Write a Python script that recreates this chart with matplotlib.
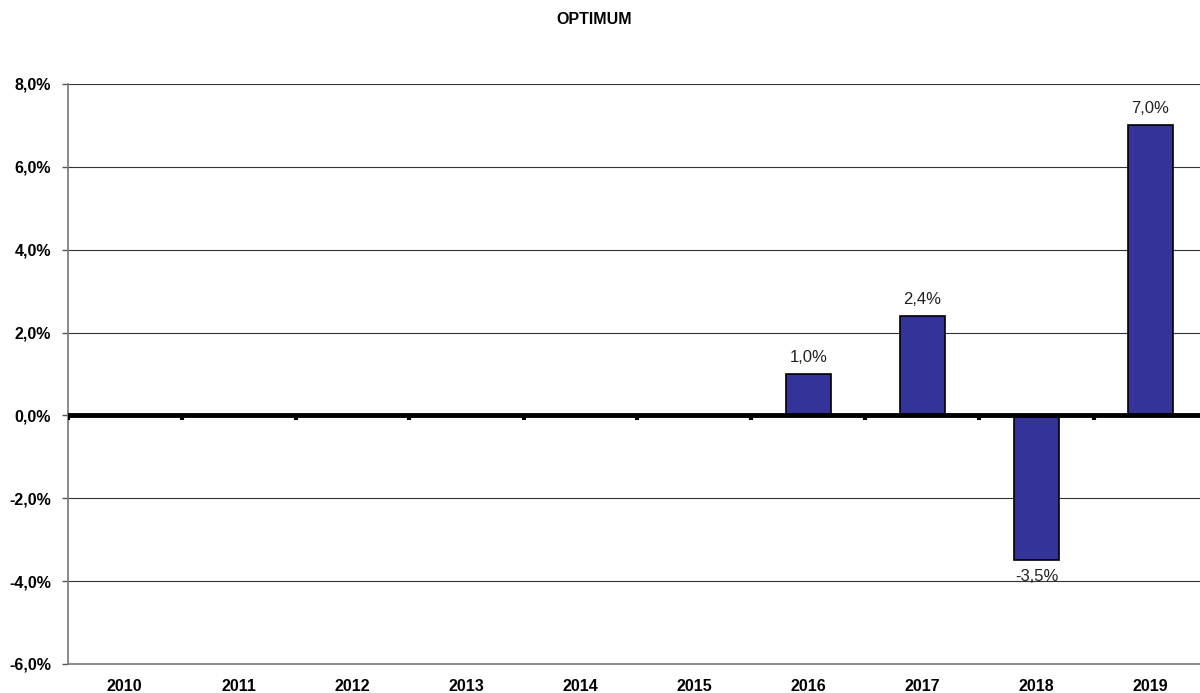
import matplotlib.pyplot as plt
from matplotlib.ticker import FuncFormatter

plt.rcParams['font.family'] = ['Liberation Sans', 'DejaVu Sans']

# data
years = ['2010', '2011', '2012', '2013', '2014', '2015', '2016', '2017', '2018', '2019']
values = [None, None, None, None, None, None, 1.0, 2.4, -3.5, 7.0]
yticks = [-6, -4, -2, 0, 2, 4, 6, 8]

fig = plt.figure(figsize=(12, 6.93), dpi=100)
ax = fig.add_axes([67.5 / 1200, 29 / 693, 1140 / 1200, 580 / 693])

x = list(range(len(years)))
for i, v in enumerate(values):
    if v is None:
        continue
    ax.bar(i, v, width=0.4, color='#333399', edgecolor='black', linewidth=1.2, zorder=3)
    if v >= 0:
        ax.text(i, v + 0.22, f'{v:.1f}%'.replace('.', ','), ha='center', va='bottom',
                fontsize=12, color='#222222', zorder=4)
    else:
        ax.text(i, v - 0.2, f'{v:.1f}%'.replace('.', ','), ha='center', va='top',
                fontsize=12, color='#222222', zorder=4)

ax.set_xlim(-0.5, len(years) - 0.5)
ax.set_ylim(-6, 8)
ax.set_yticks(yticks)
ax.yaxis.set_major_formatter(FuncFormatter(lambda v, p: f'{v:.1f}%'.replace('.', ',')))
for t in yticks:
    if t not in (0, -6):
        ax.axhline(t, color='#333333', linewidth=0.8, zorder=1)
ax.axhline(0, color='black', linewidth=3.5, zorder=5)

# category boundary ticks on the zero line
for i in range(len(years)):
    ax.plot([i - 0.5, i - 0.5], [0, -0.12], color='black', linewidth=3, zorder=5,
            solid_capstyle='butt')

ax.set_xticks(x)
ax.set_xticklabels(years, fontweight='bold', fontsize=11.5)
ax.tick_params(axis='x', length=0, pad=11)
ax.tick_params(axis='y', length=4, width=1, color='#555555', labelsize=11.5, pad=8)
for lab in ax.get_yticklabels():
    lab.set_fontweight('bold')

for s in ['top', 'right']:
    ax.spines[s].set_visible(False)
ax.spines['left'].set_color('#777777')
ax.spines['bottom'].set_color('#777777')
ax.spines['left'].set_linewidth(1.2)
ax.spines['bottom'].set_linewidth(1.2)

fig.text(594 / 1200, 1 - 19 / 693, 'OPTIMUM', ha='center', va='center',
         fontsize=11.5, fontweight='bold')

fig.savefig('out.png', dpi=100)
